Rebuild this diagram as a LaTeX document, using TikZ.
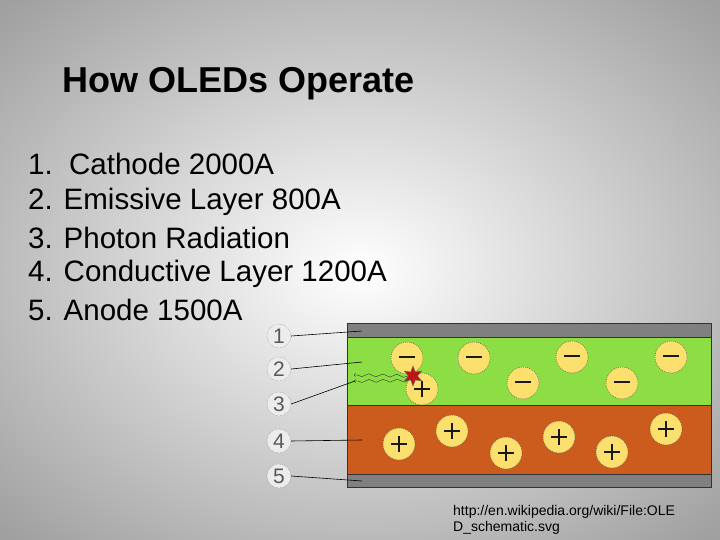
\documentclass[tikz,border=0pt]{standalone}
\usepackage{fontspec}
\setmainfont{Liberation Sans}
\usetikzlibrary{shapes.geometric,decorations.pathmorphing}
\begin{document}
\begin{tikzpicture}[x=1pt,y=-1pt,
  chg/.style={circle,draw=black!70,dash pattern=on 1pt off 1pt,fill={rgb,255:red,252;green,224;blue,110},minimum size=32pt,inner sep=0pt},
  sign/.style={line width=2.6pt,black!90},
  lab/.style={circle,draw=gray,densely dotted,fill=gray!15,minimum size=24pt,inner sep=0pt,font=\fontsize{21}{21}\selectfont\color{black!65}},
  lead/.style={black,line width=0.6pt},
  listtxt/.style={anchor=west,font=\fontsize{29.5}{29.5}\selectfont,inner sep=0pt}]
\useasboundingbox (0,0) rectangle (720,540);
\shade[inner color=white,outer color=gray!75] (-150,-100) rectangle (870,640);
\node[anchor=west,font=\bfseries\fontsize{36}{36}\selectfont,inner sep=0pt] (title) at (62,84) {How OLEDs Operate};
\node[listtxt] (l1) at (28,164) {1.\ \ Cathode 2000A};
\node[listtxt] (l2) at (28,202) {2. Emissive Layer 800A};
\node[listtxt] (l3) at (28,238) {3. Photon Radiation};
\node[listtxt] (l4) at (28,274) {4. Conductive Layer 1200A};
\node[listtxt] (l5) at (28,310) {5. Anode 1500A};
% layers
\fill[fill={rgb,255:red,140;green,222;blue,68}] (347,337) rectangle (711,405);
\fill[fill={rgb,255:red,204;green,92;blue,30}] (347,405) rectangle (711,474);
\fill[fill={rgb,255:red,128;green,128;blue,128}] (347,323) rectangle (711,337);
\fill[fill={rgb,255:red,128;green,128;blue,128}] (347,474) rectangle (711,487);
\draw[black!80,line width=0.6pt] (347,323) rectangle (711,487);
\draw[black!80] (347,337)--(711,337) (347,405)--(711,405) (347,474)--(711,474);
% charges
\foreach \n/\x/\y in {m1/407/358,m2/474/358,m3/572/357,m4/671/357,m5/523/383,m6/622/383}{
  \node[chg] (\n) at (\x,\y) {};
  \draw[sign] ([shift={(-8,-1)}]\n.center) -- ([shift={(8,-1)}]\n.center);}
\foreach \n/\x/\y in {p1/422/389,p2/399/444,p3/452/431,p4/506/453,p5/559/437,p6/612/452,p7/666/429}{
  \node[chg] (\n) at (\x,\y) {};
  \draw[sign] ([shift={(-8,0)}]\n.center) -- ([shift={(8,0)}]\n.center)
              ([shift={(0,-8)}]\n.center) -- ([shift={(0,8)}]\n.center);}
\node[star,star points=6,star point ratio=2.2,fill={rgb,255:red,190;green,20;blue,20},draw=black!60,minimum size=20pt,inner sep=0pt] (st) at (413,376) {};
\coordinate (w1) at (354,375);
\coordinate (w2) at (354,381);
\draw[black!80,->,decorate,decoration={snake,amplitude=1.5pt,segment length=14pt}] (st) -- (w1);
\draw[black!80,->,decorate,decoration={snake,amplitude=1.5pt,segment length=14pt}] (st.south west) -- (w2);
% labels
\node[lab] (c1) at (279,336) {1};
\node[lab] (c2) at (279,369) {2};
\node[lab] (c3) at (279,404) {3};
\node[lab] (c4) at (279,441) {4};
\node[lab] (c5) at (279,476) {5};
\coordinate (e1) at (362,331);
\coordinate (e2) at (362,362);
\coordinate (e3) at (355,381);
\coordinate (e4) at (362,440);
\coordinate (e5) at (362,481);
\foreach \i in {1,...,5} \draw[lead] (c\i.east) -- (e\i);
\node[anchor=north west,align=left,font=\fontsize{14}{16}\selectfont,inner sep=0pt] (url) at (453,505) {http://en.wikipedia.org/wiki/File:OLE\\D\_schematic.svg};
\end{tikzpicture}
\end{document}
